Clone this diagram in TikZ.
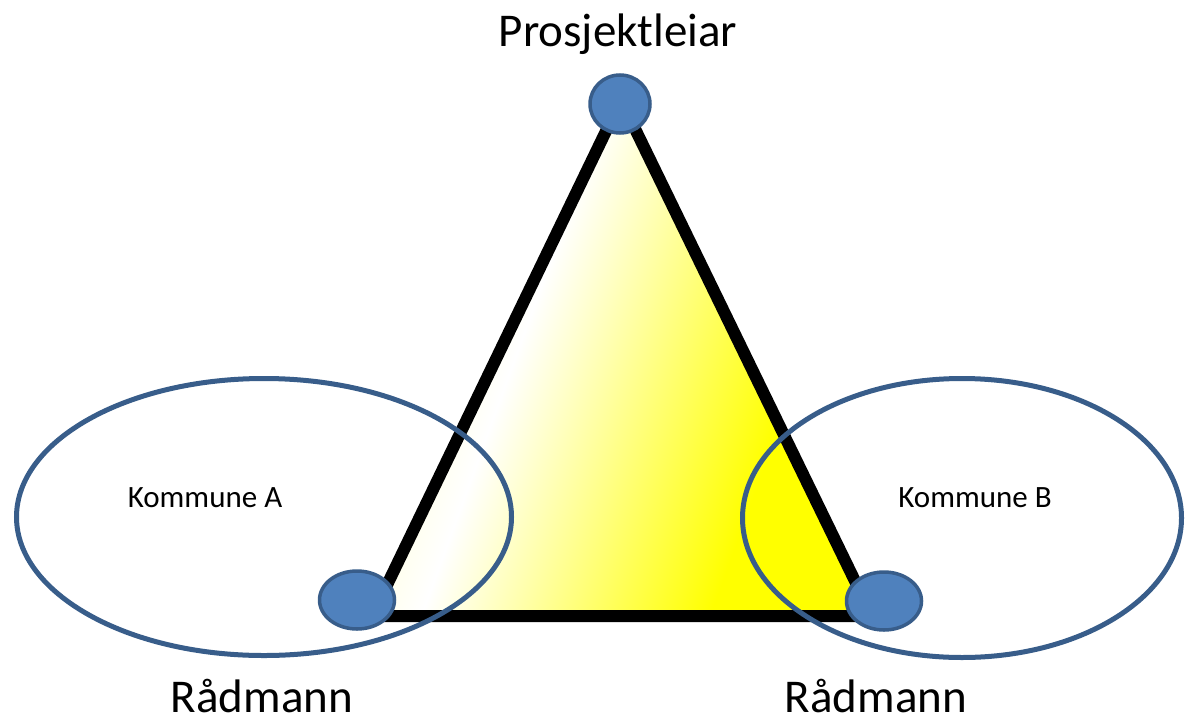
\documentclass[tikz,border=0pt]{standalone}
\usepackage{fontspec}
\setmainfont{Carlito}
\usetikzlibrary{shapes.geometric}
\definecolor{dotcol}{RGB}{79, 129, 189}
\definecolor{ringcol}{RGB}{56, 93, 138}
\definecolor{fillcol}{RGB}{255, 255, 0}
\pgfdeclarehorizontalshading{trifill}{100bp}{
  color(0bp)=(fillcol!20); color(28bp)=(fillcol!20); color(40bp)=(white);
  color(67bp)=(fillcol); color(100bp)=(fillcol)}
\tikzset{
  tri/.style    = {draw=black, line width=12pt, line join=round,
                   shading=trifill, shading angle=-20},
  region/.style = {ellipse, draw=ringcol, line width=5pt, inner sep=0pt},
  dot/.style    = {ellipse, draw=ringcol, fill=dotcol, line width=3.5pt,
                   inner sep=0pt, minimum height=58pt},
  big/.style    = {anchor=base, font=\fontsize{47}{56}\selectfont, inner sep=0pt},
  small/.style  = {anchor=base, font=\fontsize{31}{37}\selectfont, inner sep=0pt},
}
\begin{document}
\begin{tikzpicture}[x=1pt, y=-1pt]
  \useasboundingbox (0,0) rectangle (1185,720);

  %% ---------------- the triangle ----------------
  \coordinate (apex)  at (621,100);
  \coordinate (left)  at (372,616);
  \coordinate (right) at (872,616);
  \shade[tri] (apex) -- (left) -- (right) -- cycle;

  %% ---------------- the two municipalities ----------------
  \node[region, minimum width=495pt, minimum height=277pt] (ringA) at (264,517) {};
  \node[region, minimum width=439pt, minimum height=279pt] (ringB) at (962,518) {};
  \node[small] (komA) at (205,507) {Kommune A};
  \node[small] (komB) at (975,507) {Kommune B};

  %% ---------------- the three roles ----------------
  \node[dot, minimum width=60pt] (leiar) at (620,104) {};
  \node[dot, minimum width=75pt] (radA)  at (357,600) {};
  \node[dot, minimum width=75pt] (radB)  at (884,601) {};

  \node[big] (tLeiar) at (618,46)  {Prosjektleiar};
  \node[big] (tRadA)  at (262,712) {Rådmann};
  \node[big] (tRadB)  at (876,712) {Rådmann};

\end{tikzpicture}
\end{document}
